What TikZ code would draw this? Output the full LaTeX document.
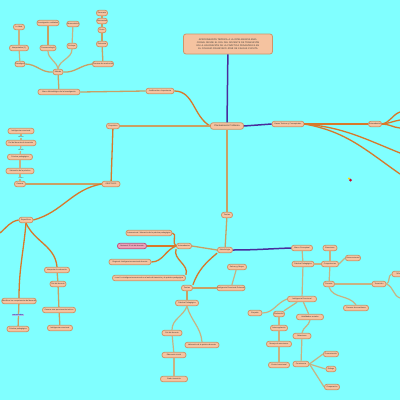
\documentclass[tikz,border=0pt]{standalone}
\usepackage{fontspec}
\setmainfont{Liberation Sans}
\definecolor{bg}{HTML}{80FFFF}
\definecolor{nodef}{HTML}{F5C3A0}
\definecolor{nodeb}{HTML}{CF9468}
\definecolor{orn}{HTML}{D8782A}
\definecolor{tan}{HTML}{C9A064}
\definecolor{ltan}{HTML}{C8B282}
\definecolor{purp}{HTML}{4A2C9C}
\definecolor{pinkf}{HTML}{EBA2B8}
\definecolor{pinkb}{HTML}{C24E7C}
\tikzset{
  nd/.style={draw=nodeb, fill=nodef, rounded corners=2.5pt, line width=0.8pt,
    minimum height=5.5pt, inner sep=0.3pt, font=\fontsize{1.9}{2.2}\selectfont, text=black!80},
  wd/.style={minimum width=#1pt},
  oc/.style={draw=orn, line width=1.3pt},
  tc/.style={draw=tan, line width=1.3pt},
  lc/.style={draw=ltan, line width=1.2pt},
  pc/.style={draw=purp, line width=1.5pt},
  lab/.style={font=\fontsize{1.9}{2.2}\selectfont, text=black!70, inner sep=0.2pt}
}
\begin{document}
\begin{tikzpicture}[x=1pt,y=-1pt]
\fill[bg] (0,0) rectangle (400,400);
\useasboundingbox (0,0) rectangle (400,400);

% ---------- main ----------
\node[nd, minimum width=89pt, minimum height=20pt, text width=82pt, align=center, font=\fontsize{2.3}{2.9}\selectfont] (title) at (228,44)
 {APROXIMACIÓN TEÓRICA A LA INTELIGENCIA EMOCIONAL DESDE EL ROL DEL DOCENTE DE TRANSICIÓN EN LA VALORACIÓN DE LA PRÁCTICA PEDAGÓGICA EN EL COLEGIO FRANCISCO JOSÉ DE CALDAS CÚCUTA};
\node[nd, wd=33, minimum height=6.5pt, font=\fontsize{2.3}{2.6}\selectfont] (plan) at (227,126) {Planteamiento Problema};
\node[nd, wd=28] (just) at (160,91) {Justificación e Importancia};
\node[nd, wd=13] (prop) at (113,126) {Propósitos};
\node[nd, wd=18] (obj) at (111,184) {OBJETIVOS};
\node[nd, wd=32] (bases) at (288,124) {Bases Teóricas y Conceptuales};
\node[nd, wd=13] (ante) at (375,124) {Antecedentes};
\node[nd, wd=11] (teo) at (227,215) {Teorías};
\node[nd, wd=15] (estr) at (225,250) {Metodología};

% ---------- top-left cluster ----------
\node[nd, wd=42] (m0) at (59,92) {Marco Metodológico de la Investigación};
\node[nd, wd=10] (m1) at (58,72) {Método};
\node[nd, wd=10] (a1) at (20,64) {Paradigma};
\node[nd, wd=19] (a2) at (19,48) {Interpretativo (1)};
\node[nd, wd=11] (a3) at (19,27) {Lo Ideal};
\node[nd, wd=16] (b1) at (48,48) {Fenomenología};
\node[nd, wd=22] (b2) at (48,23) {Investigación cualitativa};
\node[nd, wd=10] (c1) at (72,46) {Enfoque};
\node[nd, wd=11] (c2) at (73,24) {Hermenéutico};
\node[nd, wd=21] (d1) at (103,64) {Técnicas de recolección};
\node[nd, wd=11] (d2) at (102,44) {Entrevista};
\node[nd, wd=8] (d3) at (102,30) {Guion};
\node[nd, wd=10] (d4) at (102,21) {Informantes};
\node[nd, wd=11] (d5) at (102,13) {Escenario};

% ---------- left column ----------
\node[nd, wd=26] (l1) at (21,131) {Inteligencia emocional};
\node[nd, wd=30] (l2) at (21,143) {Rol del docente de transición};
\node[nd, wd=25] (l3) at (20,157) {Práctica pedagógica};
\node[nd, wd=28] (l4) at (20,171) {Valoración de la práctica};
\node[nd, wd=11] (l5) at (20,184) {General};

% ---------- lower-left ----------
\node[nd, wd=14] (cat) at (26,220) {Específicos};
\node[nd, wd=33] (e1) at (19,301) {Identificar las competencias del docente};
\node[nd, wd=22] (e2) at (18,329) {Práctica pedagógica};
\node[nd, wd=25] (f1) at (57,270) {Interpretar la valoración};
\node[nd, wd=16] (f2) at (58,284) {Rol del docente};
\node[nd, wd=33] (f3) at (59,310) {Generar una aproximación teórica};
\node[nd, wd=25] (f4) at (60,328) {Inteligencia emocional};

% ---------- center lower ----------
\node[nd, wd=15] (ant2) at (184,246) {Antecedentes};
\node[nd, wd=46] (g1) at (149,233) {Internacional: Valoración de la práctica pedagógica};
\node[nd, wd=29, fill=pinkf, draw=pinkb] (g2) at (132,246) {Nacional: El rol del docente};
\node[nd, wd=42] (g3) at (130,262) {Regional: Inteligencia emocional docente};
\node[nd, wd=73] (g4) at (149,278) {Local: La inteligencia emocional en el aula de transición y la práctica pedagógica};
\node[nd, wd=11] (h1) at (187,288) {Teorías};
\node[nd, wd=28] (h2) at (231,288) {Inteligencia Emocional Goleman};
\node[nd, wd=19] (h3) at (237,267) {Salovey y Mayer};
\node[nd, wd=23] (h4) at (187,303) {Práctica Pedagógica};
\node[nd, wd=20] (h5) at (172,333) {Rol del docente};
\node[nd, wd=34] (h6) at (202,345) {Valoración de la práctica docente};
\node[nd, wd=24] (h7) at (174,355) {Educación inicial};
\node[nd, wd=27] (h8) at (174,379) {Grado transición};

% ---------- right lower ----------
\node[nd, wd=21] (r1) at (302,248) {Marco Conceptual};
\node[nd, wd=22] (r2) at (303,264) {Práctica Pedagógica};
\node[nd, wd=14] (r3) at (330,248) {Emociones};
\node[nd, wd=17] (r4) at (330,264) {Competencias};
\node[nd, wd=15] (r5) at (353,258) {Autoconciencia};
\node[nd, wd=11] (r6) at (329,284) {Docente};
\node[nd, wd=14] (r7) at (379,284) {Transición};
\node[nd, wd=14] (r8) at (399,274) {Niños};
\node[nd, wd=25] (r9) at (356,308) {Proceso de enseñanza};
\node[nd, wd=29] (s0) at (302,299) {Inteligencia Emocional};
\node[nd, wd=14] (s1) at (255,313) {Empatía};
\node[nd, wd=11] (s2) at (279,314) {Motivación};
\node[nd, wd=27] (s3) at (310,317) {Habilidades sociales};
\node[nd, wd=17] (s4) at (279,328) {Autorregulación};
\node[nd, wd=25] (s5) at (279,344) {Manejo de emociones};
\node[nd, wd=21] (s6) at (279,365) {Control emocional};
\node[nd, wd=18] (s7) at (302,336) {Relaciones};
\node[nd, wd=16] (s8) at (301,364) {Convivencia};
\node[nd, wd=15] (s9) at (331,354) {Comunicación};
\node[nd, wd=10] (s10) at (331,369) {Diálogo};
\node[nd, wd=15] (s11) at (332,387) {Cooperación};

% small marker
\fill[yellow!80!orange] (349,178.5) circle (1.2pt);
\fill[purple!70!red] (350.5,180) circle (1.5pt);

% free ends
\coordinate (fa) at (400,112);
\coordinate (fb) at (400,120);
\coordinate (fc) at (400,128);
\coordinate (fd) at (400,153);
\coordinate (fe) at (400,174);
\coordinate (ff) at (0,233);
\coordinate (fg) at (400,298);

% ---------- connectors ----------
\draw[pc] (title) -- (plan);
\draw[pc] (plan.east) -- (bases.west);
\draw[pc] (estr.east) to[out=0,in=182] (r1.west);
\draw[oc] (bases.east) -- (ante.west);
\draw[oc] (ante.east) to[out=10,in=200] (fa);
\draw[oc] (ante.east) to[out=5,in=190] (fb);
\draw[oc] (ante.east) to[out=0,in=175] (fc);
\draw[oc] (bases.east) to[out=-5,in=158] (fd);
\draw[oc] (bases.east) to[out=-10,in=145] (fe);
\draw[oc] (just.east) to[out=0,in=150] (plan.west);
\draw[tc] (m0.east) -- (just.west);
\draw[tc] (prop.east) -- (plan.west);
\draw[oc] (prop) -- (obj);
\draw[tc] (plan) -- (teo);
\draw[tc] (teo) -- (estr);

% top-left
\draw[tc] (m1) -- (m0);
\draw[tc] (m1.west) to[out=185,in=0] (a1.east);
\draw[lc] (m1.north) to[out=100,in=-90] (b1.south);
\draw[lc] (m1.north) to[out=80,in=-90] (c1.south);
\draw[tc] (m1.east) to[out=-5,in=185] (d1.west);
\draw[lc] (a1) -- (a2);
\draw[lc] (a2) -- (a3);
\draw[tc] (b1) -- (b2);
\draw[lc] (c1) -- (c2);
\draw[tc] (d1) -- (d2);
\draw[tc] (d2) -- (d3);
\draw[tc] (d3) -- (d4);
\draw[tc] (d4) -- (d5);

% left column
\draw[lc] (l1) -- (l2);
\draw[lc] (l2) -- (l3);
\draw[lc] (l3) -- (l4);
\draw[lc] (l4) -- (l5);
\draw[tc] (l5.east) -- (obj.west);
\node[lab, fill=bg] at (21,137) {define};
\node[lab, fill=bg] at (21,150) {desde};
\node[lab, fill=bg] at (21,178) {cómo};

% lower-left
\draw[oc] (obj.west) to[out=190,in=15] (cat.east);
\draw[oc] (cat.west) to[out=190,in=40] (ff);
\draw[oc] (cat.south) to[out=-95,in=90] (e1.north);
\draw[tc] (e1) -- (e2);
\node[lab, text=blue!60!black, fill=cyan!50!blue!35] at (18,315) {emocionales};
\draw[oc] (cat.south) to[out=-65,in=95] (f1.north);
\draw[tc] (f1) -- (f2);
\draw[tc] (f2) -- (f3);
\draw[tc] (f3) -- (f4);

% center lower
\draw[tc] (ant2.east) -- (estr.west);
\draw[oc] (ant2.west) to[out=160,in=0] (g1.east);
\draw[oc] (ant2.west) -- (g2.east);
\draw[oc] (ant2.west) to[out=200,in=0] (g3.east);
\draw[oc] (ant2.south west) to[out=-110,in=70] (g4.north east);
\draw[oc] (estr.south west) to[out=220,in=70] (h1.north east);
\draw[tc] (h1) -- (h2);
\draw[lc] (h2) -- (h3);
\draw[tc] (h1) -- (h4);
\draw[lc] (h4.south) to[out=-110,in=90] (h5.north);
\draw[lc] (h4.south) to[out=-75,in=95] (h6.north);
\draw[lc] (h5) -- (h7);
\draw[lc] (h7) -- (h8);

% right lower
\draw[lc] (r1) -- (r2);
\draw[lc] (r2) -- (r4);
\draw[lc] (r4) -- (r3);
\draw[lc] (r4.east) -- (r5.west);
\draw[lc] (r4) -- (r6);
\draw[lc] (r6.east) -- (r7.west);
\draw[lc] (r7.east) to[out=20,in=200] (r8.west);
\draw[lc] (r7.east) to[out=-20,in=160] (fg);
\draw[lc] (r6.south) to[out=-70,in=125] (r9.north);
\draw[lc] (r2) -- (s0);
\draw[lc] (s0.west) to[out=200,in=0] (s1.east);
\draw[lc] (s0) -- (s2);
\draw[lc] (s0) -- (s3);
\draw[lc] (s2) -- (s4);
\draw[lc] (s4) -- (s5);
\draw[lc] (s5) -- (s6);
\draw[lc] (s3.south) to[out=-100,in=80] (s7.north);
\draw[lc] (s7) -- (s8);
\draw[lc] (s8.east) -- (s9.west);
\draw[lc] (s8.east) -- (s10.west);
\draw[lc] (s8.east) -- (s11.west);
\end{tikzpicture}
\end{document}
